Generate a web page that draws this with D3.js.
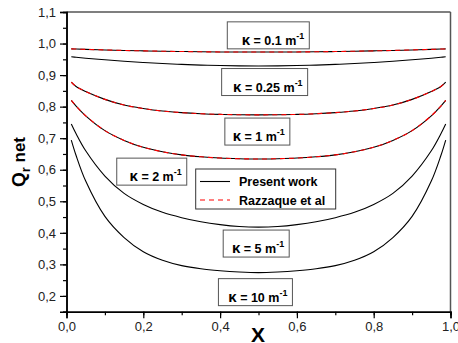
<!DOCTYPE html>
<html><head><meta charset="utf-8">
<script src="https://cdn.jsdelivr.net/npm/d3@7"></script>
<style>body{margin:0;background:#fff;}svg{display:block;font-family:"Liberation Sans",Arial,sans-serif;}</style>
</head><body><svg id="c" width="458" height="343"></svg>
<script>
// ---------- data ----------
const xs = [0.0125,0.025,0.05,0.1,0.15,0.2,0.25,0.3,0.35,0.4,0.45,0.5,0.55,0.6,0.65,0.7,0.75,0.8,0.85,0.9,0.95,0.975,0.9875];
const kappas = ["0.1","0.25","1","2","5","10"];
const q01  = [0.983,0.9825,0.9815,0.9797,0.9781,0.9768,0.9756,0.9747,0.9739,0.9734,0.9731,0.973,0.9731,0.9734,0.9739,0.9747,0.9756,0.9768,0.9781,0.9797,0.9815,0.9825,0.983];
const q025 = [0.958,0.9566,0.9536,0.9485,0.9439,0.940,0.9366,0.9339,0.9317,0.9302,0.9293,0.929,0.9293,0.9302,0.9317,0.9339,0.9366,0.940,0.9439,0.9485,0.9536,0.9566,0.958];
const q1   = [0.878,0.864,0.848,0.823,0.805,0.794,0.786,0.781,0.7776,0.7754,0.7743,0.774,0.7743,0.7754,0.7776,0.781,0.786,0.794,0.805,0.823,0.848,0.864,0.878];
const q2   = [0.820,0.802,0.771,0.724,0.693,0.671,0.657,0.647,0.641,0.637,0.635,0.634,0.635,0.637,0.641,0.647,0.657,0.671,0.693,0.724,0.771,0.802,0.820];
const q5   = [0.745,0.714,0.660,0.580,0.525,0.490,0.465,0.448,0.435,0.426,0.420,0.418,0.420,0.426,0.435,0.448,0.465,0.490,0.525,0.580,0.660,0.714,0.745];
const q10  = [0.694,0.645,0.564,0.452,0.385,0.340,0.313,0.296,0.286,0.280,0.276,0.274,0.276,0.280,0.286,0.296,0.313,0.340,0.385,0.452,0.564,0.645,0.694];
const present = [q01,q025,q1,q2,q5,q10];
const razzaque = [q01,q1,q2];          // reference data overlaid (red dashed)
const xTicks = [0.0,0.2,0.4,0.6,0.8,1.0];
const yTicks = [0.2,0.3,0.4,0.5,0.6,0.7,0.8,0.9,1.0,1.1];
const legendNames = ["Present work","Razzaque et al"];
// annotation placement (data coords of box centre) and box width (px)
const labelPos = [[0.5255,1.026,82],[0.516,0.878,86],[0.497,0.721,65],[0.222,0.594,70],[0.494,0.366,66],[0.492,0.212,74]];

// ---------- chart ----------
const svg = d3.select("#c");
const L=66.5, R=450.5, T=12, B=311.7;
const x = d3.scaleLinear().domain([0,1]).range([L,R]);
const y = d3.scaleLinear().domain([0.15,1.1]).range([B,T]);
const fmt = d => d3.format(".1f")(d).replace(".",",");

// frame
svg.append("line").attr("x1",L).attr("x2",R).attr("y1",T).attr("y2",T).attr("stroke","#555").attr("stroke-width",1.5);
svg.append("line").attr("x1",R).attr("x2",R).attr("y1",T).attr("y2",B).attr("stroke","#555").attr("stroke-width",1.5);

// x axis
const gx = svg.append("g").attr("transform",`translate(0,${B})`);
gx.call(d3.axisBottom(x).tickValues(d3.range(0,1.0001,0.1)).tickSize(3.5).tickFormat(""));
gx.call(g=>g.append("g").call(d3.axisBottom(x).tickValues(xTicks).tickSize(6.5).tickPadding(4).tickFormat(fmt)));
gx.selectAll(".domain").attr("stroke","#000").attr("stroke-width",1.5);
gx.selectAll(".tick line").attr("stroke","#000").attr("stroke-width",1.2);
gx.selectAll("text").attr("font-size",13).attr("fill","#222").attr("font-family","Liberation Sans, Arial, sans-serif");

// y axis
const gy = svg.append("g").attr("transform",`translate(${L},0)`);
gy.call(d3.axisLeft(y).tickValues(d3.range(0.15,1.1001,0.05)).tickSize(3.5).tickFormat(""));
gy.call(g=>g.append("g").call(d3.axisLeft(y).tickValues(yTicks).tickSize(6.5).tickPadding(4).tickFormat(fmt)));
gy.selectAll(".domain").attr("stroke","#000").attr("stroke-width",1.5);
gy.selectAll(".tick line").attr("stroke","#000").attr("stroke-width",1.2);
gy.selectAll("text").attr("font-size",13).attr("fill","#222").attr("font-family","Liberation Sans, Arial, sans-serif");

// curves
const line = d3.line().x((d,i)=>x(xs[i])).y(d=>y(d)).curve(d3.curveCatmullRom.alpha(0.5));
svg.append("g").selectAll("path").data(present).join("path")
  .attr("d",line).attr("fill","none").attr("stroke","#000").attr("stroke-width",1.1);
svg.append("g").selectAll("path").data(razzaque).join("path")
  .attr("d",line).attr("fill","none").attr("stroke","#ff0000").attr("stroke-width",1.1).attr("stroke-dasharray","5,4");

// kappa labels
const lab = svg.append("g");
kappas.forEach((k,i)=>{
  const [cx,cy,w] = labelPos[i];
  const h=27, px=x(cx), py=y(cy);
  lab.append("rect").attr("x",px-w/2).attr("y",py-h/2).attr("width",w).attr("height",h)
    .attr("fill","#fff").attr("stroke","#555").attr("stroke-width",1);
  const t = lab.append("text").attr("x",px+w/2-5).attr("y",py+h/2-4).attr("text-anchor","end")
    .attr("font-weight","bold").attr("font-size",12.5).attr("fill","#000");
  t.append("tspan").attr("font-size",15).text("κ");
  t.append("tspan").text(" = "+k+" m");
  t.append("tspan").attr("font-size",9).attr("dy",-6).text("-1");
});

// legend
const lg = svg.append("g");
lg.append("rect").attr("x",195.7).attr("y",169).attr("width",140).attr("height",40)
  .attr("fill","#fff").attr("stroke","#333").attr("stroke-width",1);
const lstyles = [{c:"#000",d:null},{c:"#ff0000",d:"5,4"}];
legendNames.forEach((n,i)=>{
  const yy = 181.5 + i*18.5;
  lg.append("line").attr("x1",200).attr("x2",230).attr("y1",yy).attr("y2",yy)
    .attr("stroke",lstyles[i].c).attr("stroke-width",1.1).attr("stroke-dasharray",lstyles[i].d);
  lg.append("text").attr("x",239).attr("y",yy+4.5).attr("font-weight","bold").attr("font-size",12.5).text(n);
});

// axis titles
const yt = svg.append("text").attr("transform","translate(25,162) rotate(-90)").attr("text-anchor","middle")
  .attr("font-weight","bold").attr("font-size",19);
yt.append("tspan").text("Q");
yt.append("tspan").attr("font-size",13).attr("dy",5).text("r");
yt.append("tspan").attr("font-size",17).attr("dy",-5).text(" net");
svg.append("text").attr("x",258).attr("y",342).attr("text-anchor","middle")
  .attr("font-weight","bold").attr("font-size",21).text("X");
</script></body></html>
